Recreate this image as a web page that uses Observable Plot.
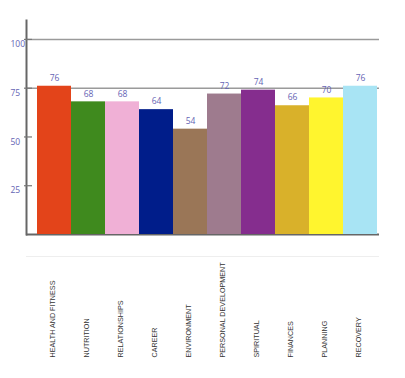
<!DOCTYPE html>
<html>
<head>
<meta charset="utf-8">
<script src="https://cdn.jsdelivr.net/npm/d3@7"></script>
<script src="https://cdn.jsdelivr.net/npm/@observablehq/plot@0.6"></script>
<style>
  html, body { margin: 0; padding: 0; background: #fff; }
  svg { display: block; }
</style>
</head>
<body>
<div id="chart"></div>
<script>
const categories = ["HEALTH AND FITNESS", "NUTRITION", "RELATIONSHIPS", "CAREER", "ENVIRONMENT", "PERSONAL DEVELOPMENT", "SPIRITUAL", "FINANCES", "PLANNING", "RECOVERY"];
const values = [76, 68, 68, 64, 54, 72, 74, 66, 70, 76];
const colors = ["#e3441a", "#3f8a1e", "#f0b0d6", "#001d8a", "#9a7657", "#9e7b8e", "#852d8e", "#d9b12a", "#fff52e", "#a8e4f4"];
const yTicks = [25, 50, 75, 100];
const gridValues = [75, 100];

const data = categories.map((c, i) => ({category: c, value: values[i], color: colors[i]}));

const chart = Plot.plot({
  width: 405,
  height: 378,
  marginLeft: 26,
  marginRight: 26,
  marginTop: 20,
  marginBottom: 144,
  style: {background: "#fff", fontFamily: "Liberation Sans, Arial, sans-serif"},
  x: {domain: categories, range: [35, 379], padding: 0, axis: null},
  y: {domain: [0, 109.7], nice: false, axis: null},
  marks: [
    Plot.ruleY([0], {dy: 22, stroke: "#eeeeee", strokeWidth: 1}),
    Plot.ruleY(gridValues, {stroke: "#9a9a9a", strokeWidth: 1.5}),
    Plot.ruleY([0], {stroke: "#666", strokeWidth: 2}),
    Plot.barY(data, {x: "category", y: "value", fill: "color"}),
    Plot.text(data, {x: "category", y: "value", text: d => String(d.value), dy: -8, fill: "#6464b4", fontSize: 8.5, fontFamily: "Open Sans, sans-serif"}),
    Plot.frame({anchor: "left", stroke: "#666", strokeWidth: 2}),
    Plot.axisY({ticks: yTicks, tickSize: 8, dx: 6, text: null, label: null, stroke: "#777", strokeWidth: 1.2}),
    Plot.axisY({ticks: yTicks, tickSize: 0, label: null, textAnchor: "start", dx: -7, dy: 5, fill: "#6464b4", fontSize: 8.5, fontFamily: "Open Sans, sans-serif"}),
    Plot.text(categories, {x: d => d, frameAnchor: "bottom", rotate: -90, textAnchor: "start", dy: 123, fill: "#333", fontSize: 7.2, fontFamily: "Liberation Sans, Arial, sans-serif"})
  ]
});
document.getElementById("chart").appendChild(chart);
</script>
</body>
</html>
